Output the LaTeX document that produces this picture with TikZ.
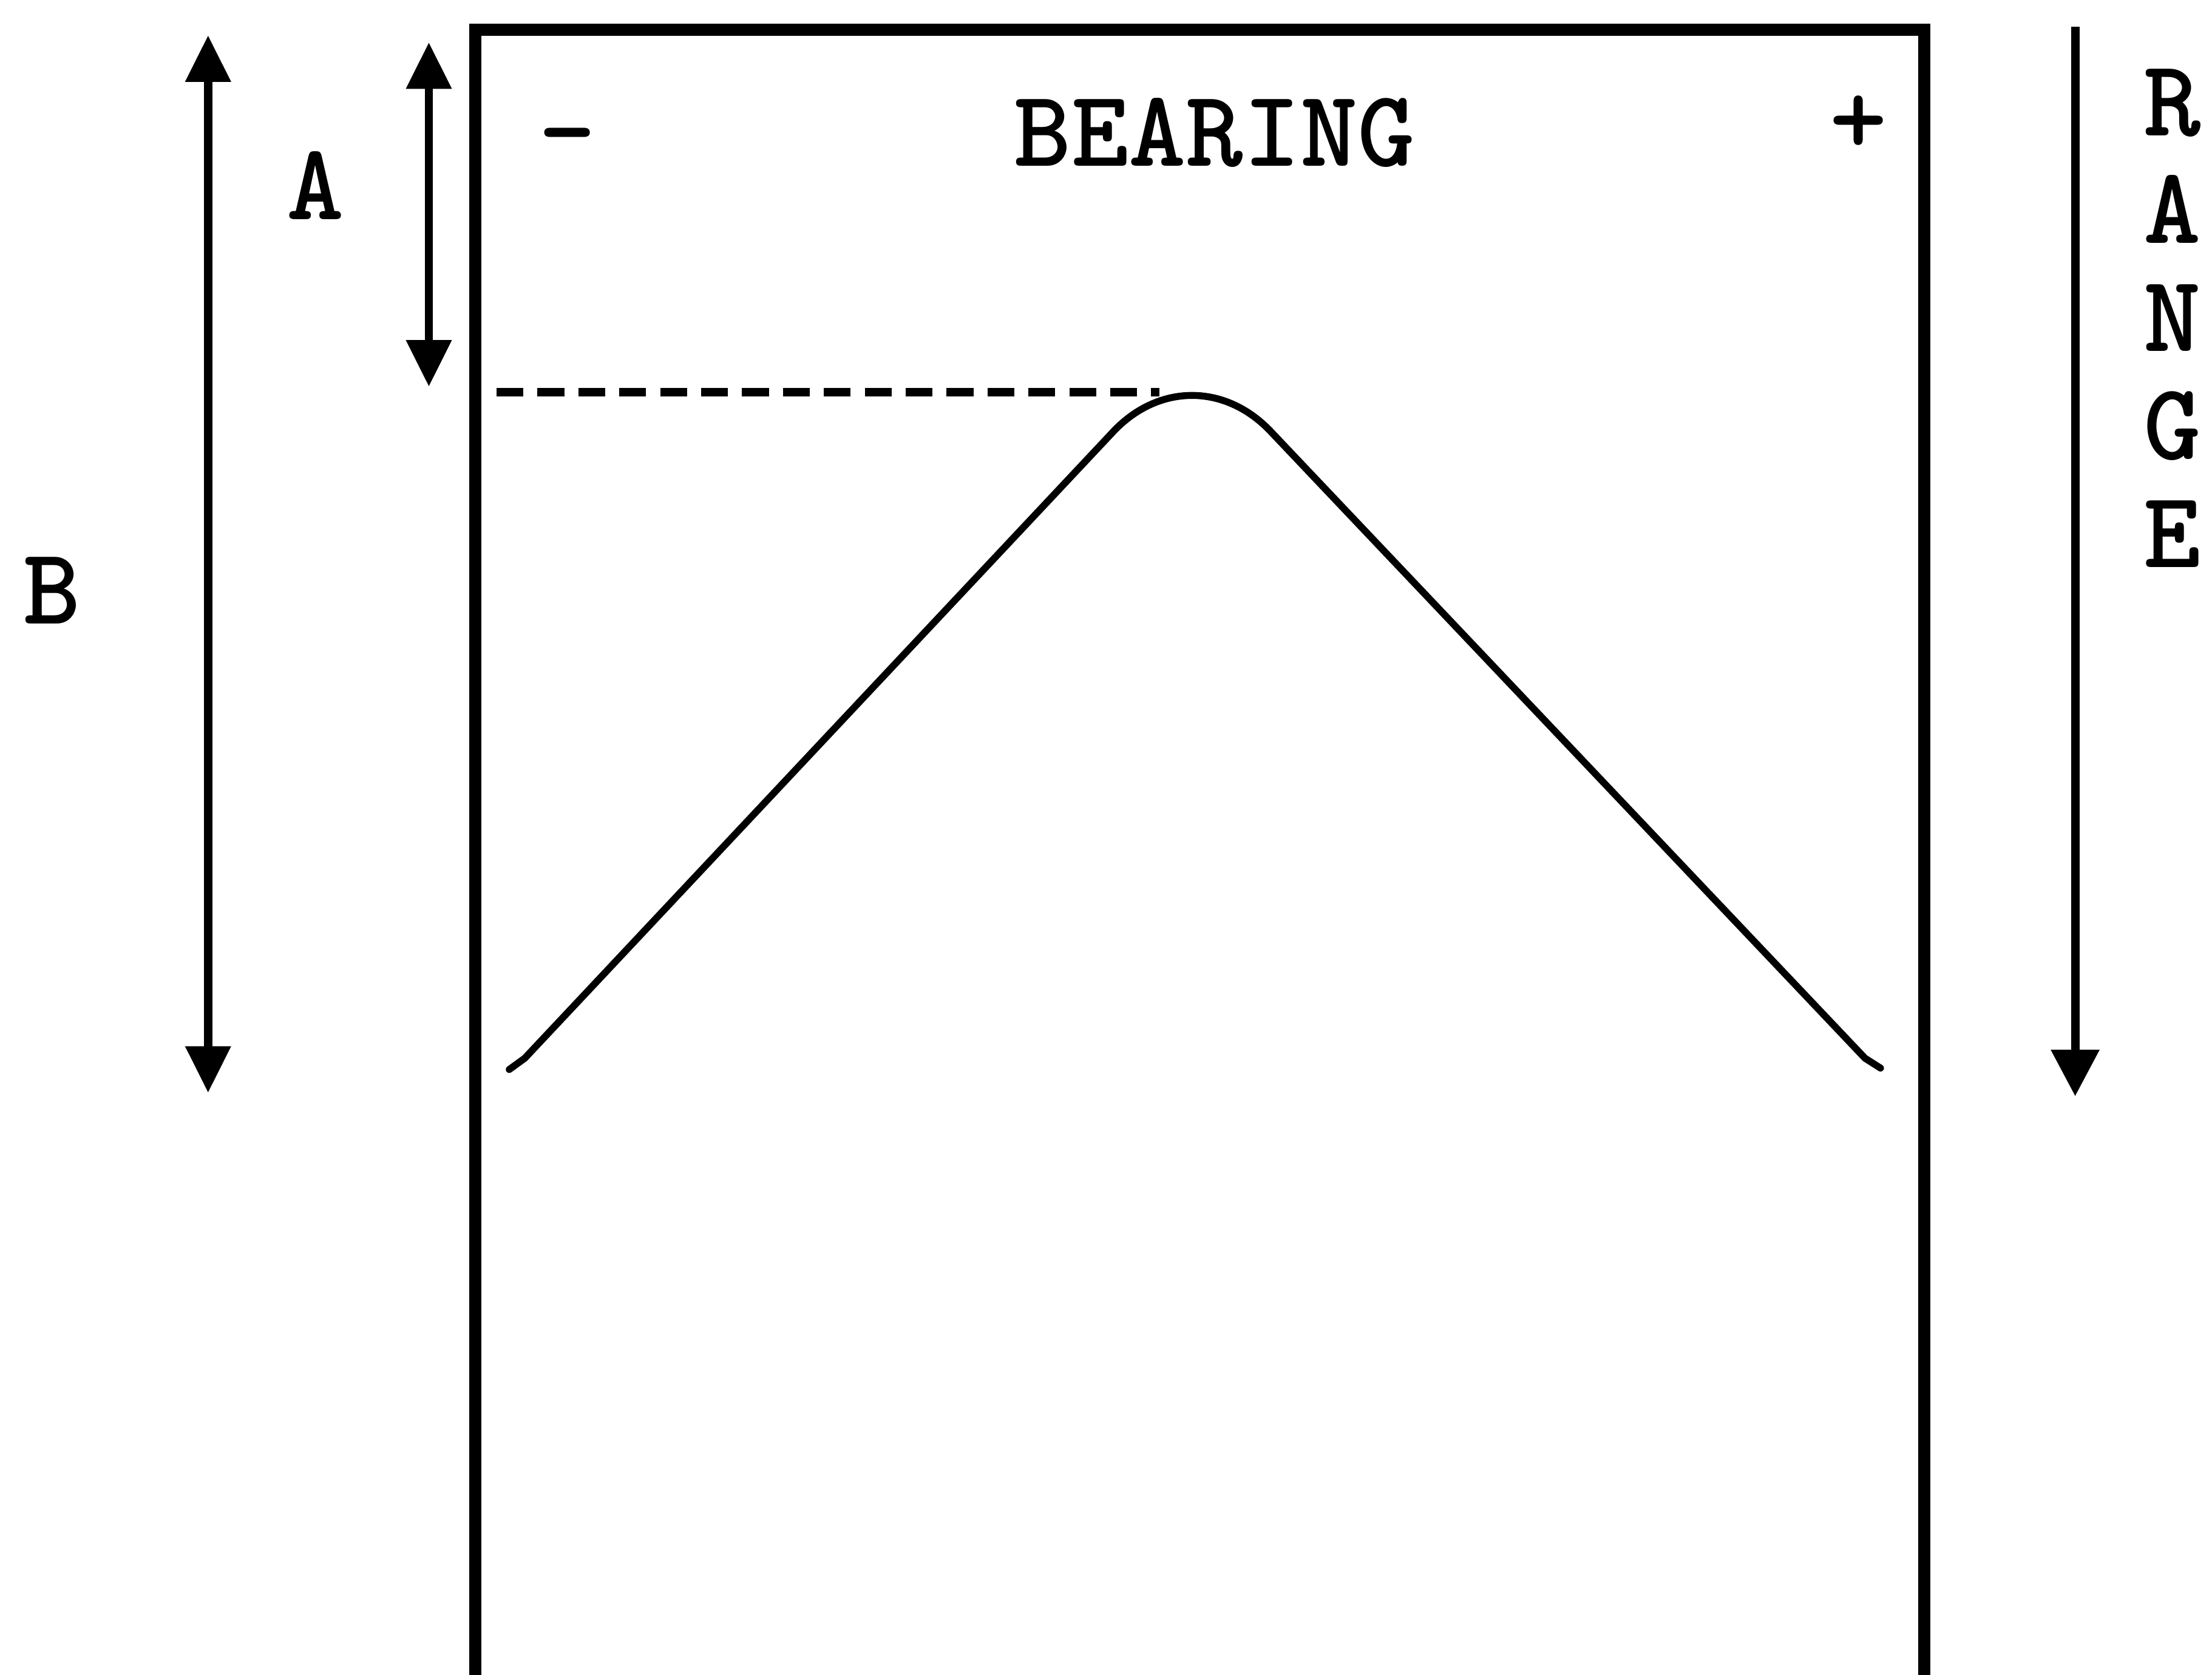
\documentclass[tikz,border=0pt]{standalone}
\usetikzlibrary{arrows.meta}
\tikzset{
	frame/.style={line width=2.4pt, line join=miter},
	dimarrow/.style={line width=1.7pt,
		{Triangle[length=3.3mm,width=3.1mm]}-{Triangle[length=3.3mm,width=3.1mm]}},
	rangearrow/.style={line width=1.7pt, -{Triangle[length=3.3mm,width=3.3mm]}},
	trace/.style={line width=1.4pt, line join=round, line cap=round},
	peakline/.style={line width=1.8pt, dash pattern=on 1.9mm off 1mm},
	caption/.style={font=\ttfamily\bfseries\fontsize{22}{22}\selectfont, inner sep=0pt, anchor=base}
}

\begin{document}
\begin{tikzpicture}[x=0.1mm, y=-0.1mm]
	\useasboundingbox (0,0) rectangle (1568,1187);
	
	%% -- display frame, open at the bottom
	\coordinate (frameBL) at (337,1195);
	\coordinate (frameTL) at (337,21);
	\coordinate (frameTR) at (1364,21);
	\coordinate (frameBR) at (1364,1195);
	\draw[frame] (frameBL) -- (frameTL) -- (frameTR) -- (frameBR);
	
	%% -- labels along the top
	\node[caption] (minus) at (402,117.5) {-};
	\node[caption] (bearing) at (861,117.5) {BEARING};
	\node[caption] (plus) at (1317.5,109) {+};
	
	%% -- dimension arrows A and B
	\coordinate (Btop) at (147.5,25);
	\coordinate (Bbot) at (147.5,774.5);
	\draw[dimarrow] (Btop) -- (Bbot);
	\node[caption] (labelB) at (37,442) {B};
	
	\coordinate (Atop) at (304,30);
	\coordinate (Abot) at (304,274);
	\draw[dimarrow] (Atop) -- (Abot);
	\node[caption] (labelA) at (223.5,155.6) {A};
	
	%% -- range arrow and vertical label
	\coordinate (Rtop) at (1471,19);
	\coordinate (Rbot) at (1471,777);
	\draw[rangearrow] (Rtop) -- (Rbot);
	\foreach \ch [count=\i] in {R,A,N,G,E}
	\node[caption] (range\i) at (1540,{19.5+76.5*\i}) {\ch};
	
	%% -- peak level
	\coordinate (peakL) at (352,278);
	\coordinate (peakR) at (822,278);
	\draw[peakline] (peakL) -- (peakR);
	
	%% -- response curve
	\draw[trace] (361,758) -- (372,750) -- (790,305)
	.. controls (822,272) and (868,272) .. (900,305)
	-- (1322,750) -- (1333,757);
	
\end{tikzpicture}
\end{document}
